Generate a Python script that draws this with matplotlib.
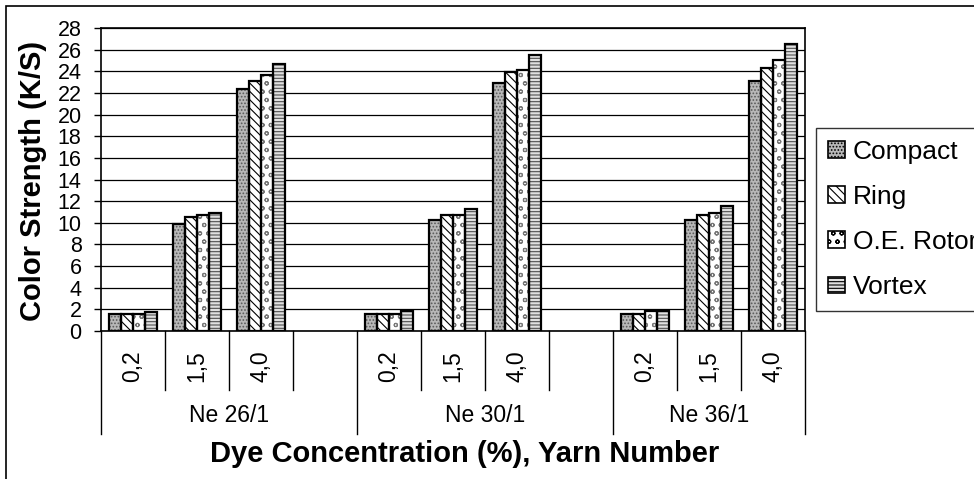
import numpy as np
import matplotlib
matplotlib.use("Agg")
import matplotlib.pyplot as plt
from matplotlib.patches import Patch, Rectangle
from matplotlib.transforms import blended_transform_factory

plt.rcParams['font.family'] = ['Liberation Sans', 'DejaVu Sans']
plt.rcParams['hatch.linewidth'] = 0.8

# data
yarns = ['Ne 26/1', 'Ne 30/1', 'Ne 36/1']
dyes = ['0,2', '1,5', '4,0']
series = ['Compact', 'Ring', 'O.E. Rotor', 'Vortex']
# rows: yarn, cols: dye concentration
compact = [[1.6, 9.9, 22.4], [1.6, 10.3, 22.9], [1.6, 10.3, 23.1]]
ring = [[1.6, 10.5, 23.1], [1.6, 10.7, 23.9], [1.6, 10.7, 24.3]]
oe_rotor = [[1.6, 10.7, 23.7], [1.6, 10.7, 24.1], [1.85, 10.9, 25.0]]
vortex = [[1.8, 10.9, 24.7], [1.85, 11.3, 25.5], [1.85, 11.55, 26.5]]

values = [compact, ring, oe_rotor, vortex]
hatches = ['.....', '\\\\\\\\', 'oo', '-----']
faces = ['#b8b8b8', 'white', 'white', '#e0e0e0']
hcols = ['#5a5a5a', 'black', '#777777', '#505050']

W, H = 974, 479
fig = plt.figure(figsize=(W / 100, H / 100), dpi=100)
ax = fig.add_axes([101 / W, 1 - 331 / H, 704 / W, 303 / H])

# slot positions: 3 slots per yarn, then an empty slot (none after last)
slots = []
for g in range(3):
    for d in range(3):
        slots.append(g * 4 + d)
slots = np.array(slots)
nslot = 11

bw = 0.185
for i, vals in enumerate(values):
    flat = np.array(vals).ravel()
    x = slots + 0.5 + (i - 1.5) * bw
    # hatch layer
    ax.bar(x, flat, bw, color=faces[i], edgecolor=hcols[i], hatch=hatches[i],
           linewidth=0, zorder=3)
    # outline
    ax.bar(x, flat, bw, facecolor='none', edgecolor='black', linewidth=1.6, zorder=4)

ax.set_xlim(0, nslot)
ax.set_ylim(0, 28)
ax.set_yticks(np.arange(0, 29, 2))
ax.tick_params(axis='y', labelsize=15.5, length=5, width=1, pad=9)
ax.set_xticks([])
ax.yaxis.grid(True, color='black', linewidth=0.9)
ax.set_axisbelow(True)
for s in ax.spines.values():
    s.set_linewidth(1.2)

ax.set_ylabel('Color Strength (K/S)', fontsize=21, fontweight='bold')
ax.yaxis.set_label_coords(-(101 - 47) / 704, (331 - 181) / 303)

# category axis
tr = blended_transform_factory(ax.transData, ax.transAxes)
short_end = -(390 - 331) / 303
long_end = -(434 - 331) / 303
for b in range(nslot + 1):
    end = long_end if b in (0, 4, 8, 11) else short_end
    ax.plot([b, b], [0, end], color='black', lw=1, transform=tr, clip_on=False)
for g in range(3):
    for d in range(3):
        ax.text(g * 4 + d + 0.5, -(366 - 331) / 303, dyes[d], rotation=90,
                ha='center', va='center', fontsize=16.5, transform=tr)
group_centers = [2, 6, 9.5]
for g in range(3):
    ax.text(group_centers[g], -(416 - 331) / 303, yarns[g], ha='center',
            va='center', fontsize=16.5, transform=tr)
ax.text(5.68, -(454 - 331) / 303, 'Dye Concentration (%), Yarn Number',
        ha='center', va='center', fontsize=21, fontweight='bold', transform=tr)

# legend
handles = [Patch(facecolor=faces[i], edgecolor=hcols[i], hatch=hatches[i]) for i in range(4)]
leg = fig.legend(handles, series, loc='upper left', bbox_to_anchor=(816 / W, 1 - 128 / H),
                 fontsize=19, frameon=True, fancybox=False, edgecolor='black',
                 handlelength=0.65, handleheight=0.6, handletextpad=0.3,
                 labelspacing=0.8, borderpad=0.45, borderaxespad=0)
leg.get_frame().set_linewidth(1)
for p in leg.get_patches():
    p.set_linewidth(1.2)
    p.set_edgecolor('black')

# outer chart border
fig.patches.append(Rectangle((6 / W, -0.1), 1.1, 1 - 6 / H + 0.1, transform=fig.transFigure,
                             fill=False, edgecolor='black', linewidth=1.2))

fig.savefig('out.png', dpi=100)
